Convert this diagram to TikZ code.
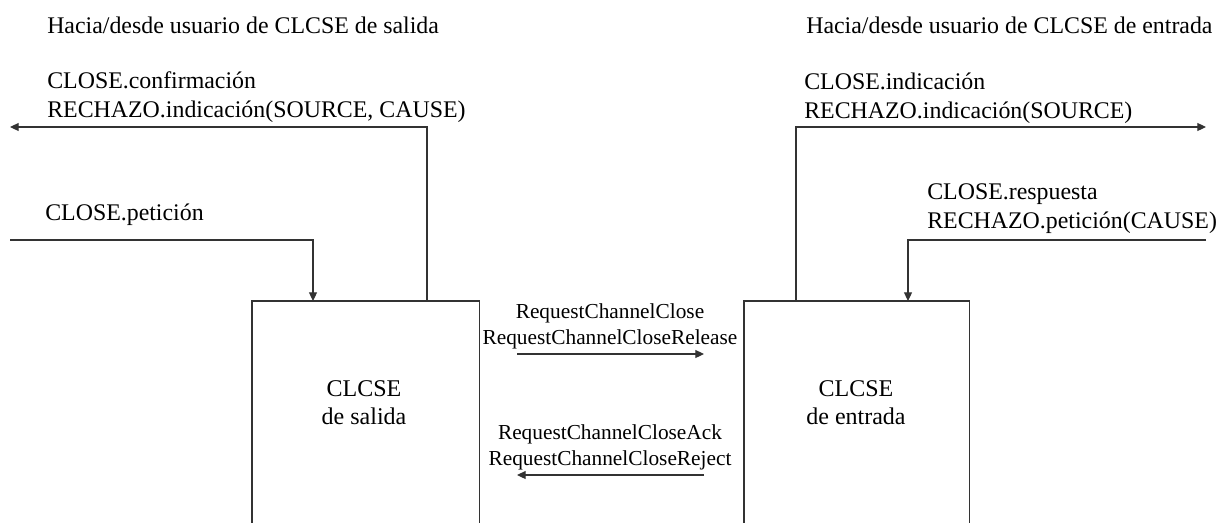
\documentclass[tikz,border=0pt]{standalone}
\usepackage{fontspec}
\setmainfont{Liberation Serif}
\usetikzlibrary{arrows.meta}
\tikzset{
  px/.style={x=0.75pt,y=-0.75pt},
  big/.style={font=\fontsize{17.9pt}{21.5pt}\selectfont,inner sep=0pt,align=left},
  small/.style={font=\fontsize{16pt}{18.8pt}\selectfont,inner sep=0pt,align=center},
  boxlabel/.style={font=\fontsize{18pt}{20.3pt}\selectfont,inner sep=0pt,align=center},
  blockbox/.style={minimum width=170.25pt,minimum height=165.75pt,inner sep=0pt},
  wire/.style={draw=black!80,line width=0.8pt},
  tip/.style={wire,-{Triangle[length=6.5pt,width=6pt]}}
}
\begin{document}
\begin{tikzpicture}[px]
\useasboundingbox (0,0) rectangle (1231,522);
% blocks (open at bottom)
\node[blockbox,anchor=north west] (salida) at (252,301) {};
\node[blockbox,anchor=north west,minimum width=168.75pt] (entrada) at (744,301) {};
\draw[wire] (salida.south west) -- (salida.north west) -- (salida.north east) -- (salida.south east);
\draw[wire] (entrada.south west) -- (entrada.north west) -- (entrada.north east) -- (entrada.south east);
\node[boxlabel,anchor=base] (ls) at (364,424) {CLCSE\\de salida};
\node[boxlabel,anchor=base] (le) at (856,424) {CLCSE\\de entrada};
% user side texts
\node[big,anchor=base west] (hL) at (47,33) {Hacia/desde usuario de CLCSE de salida};
\node[big,anchor=base west] (hR) at (806,33) {Hacia/desde usuario de CLCSE de entrada};
\node[big,anchor=base west] (cL) at (47,117) {CLOSE.confirmación\\RECHAZO.indicación(SOURCE, CAUSE)};
\node[big,anchor=base west] (pL) at (45,220) {CLOSE.petición};
\node[big,anchor=base west] (cR) at (804,118) {CLOSE.indicación\\RECHAZO.indicación(SOURCE)};
\node[big,anchor=base west] (rR) at (927,228) {CLOSE.respuesta\\RECHAZO.petición(CAUSE)};
% coordinates for free ends
\coordinate (outL) at (10,127);
\coordinate (inL) at (10,240);
\coordinate (outR) at (1206,127);
\coordinate (inR) at (1206,240);
\coordinate (sUp) at (427,301);
\coordinate (sIn) at (313,301);
\coordinate (eUp) at (796,301);
\coordinate (eIn) at (908,301);
% user connectors
\draw[tip] (sUp) |- (outL);
\draw[tip] (inL) -| (sIn);
\draw[tip] (eUp) |- (outR);
\draw[tip] (inR) -| (eIn);
% peer messages
\node[small,anchor=base] (m1) at (610,344) {RequestChannelClose\\RequestChannelCloseRelease};
\node[small,anchor=base] (m2) at (610,465) {RequestChannelCloseAck\\RequestChannelCloseReject};
\coordinate (a1s) at (517,354);
\coordinate (a1e) at (704,354);
\coordinate (a2s) at (704,475);
\coordinate (a2e) at (517,475);
\draw[tip] (a1s) -- (a1e);
\draw[tip] (a2s) -- (a2e);
\end{tikzpicture}
\end{document}
